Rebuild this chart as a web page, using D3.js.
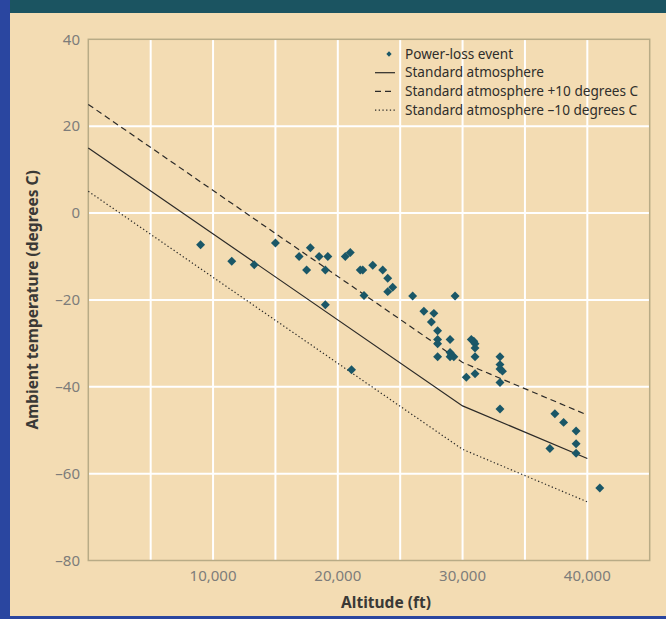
<!DOCTYPE html>
<html>
<head>
<meta charset="utf-8">
<script src="https://cdn.jsdelivr.net/npm/d3@7.9.0/dist/d3.min.js"></script>
<style>
  body { margin: 0; background: #f3dcb3; }
  svg { display: block; }
  .tick-label { font-family: 'Noto Sans', sans-serif; font-size: 15px; fill: #7d7c7a; }
  .axis-title { font-family: 'Noto Sans', sans-serif; font-size: 15.5px; font-weight: bold; fill: #3a3936; }
  .legend text { font-family: 'Noto Sans', sans-serif; font-size: 13.6px; fill: #2f2e2b; }
</style>
</head>
<body>
<svg id="chart"></svg>
<script>
// Power-loss events (altitude ft, ambient temp degrees C)
const eventAltitude = [
  9000, 11500, 13300, 15000, 16900, 17800, 17500, 18500, 19200, 19000,
  19000, 20600, 21000, 21800, 22000, 22800, 23600, 24000, 24000, 24400,
  22100, 21100, 26000, 29400, 26900, 27700, 27500, 28000, 28000, 28000,
  29000, 28000, 29000, 29100, 29300, 29000, 30700, 30900, 31000, 31000,
  31000, 30300, 31000, 33000, 33000, 33000, 33200, 33000, 33000, 37400,
  38100, 39100, 39100, 37000, 39100, 41000
];
const eventTemp = [
  -7.3, -11.1, -11.9, -6.9, -10.0, -8.0, -13.1, -10.0, -10.0, -13.1,
  -21.1, -10.0, -9.1, -13.1, -13.1, -12.0, -13.1, -15.0, -18.1, -17.1,
  -19.0, -36.1, -19.1, -19.1, -22.6, -23.1, -25.1, -27.1, -29.1, -30.1,
  -29.1, -33.1, -32.1, -32.7, -33.1, -33.1, -29.1, -29.5, -30.1, -31.1,
  -33.1, -37.8, -37.0, -33.1, -34.9, -35.9, -36.4, -39.0, -45.1, -46.2,
  -48.2, -50.2, -53.1, -54.2, -55.3, -63.3
];

// Standard atmosphere reference curves
const atmAltitude = [0, 30000, 40000];
const atmStandard = [15, -44.4, -56.5];
const atmWarm = [25, -34.4, -46.5];
const atmCold = [5, -54.4, -66.5];

const xTicks = [10000, 20000, 30000, 40000];
const xGrid = [5000, 10000, 15000, 20000, 25000, 30000, 35000, 40000];
const yTicks = [40, 20, 0, -20, -40, -60, -80];
const yGrid = [20, 0, -20, -40, -60];

const legendLabels = [
  'Power-loss event',
  'Standard atmosphere',
  'Standard atmosphere +10 degrees C',
  'Standard atmosphere \u201310 degrees C'
];

const width = 666;
const height = 619;

const svg = d3.select('#chart')
  .attr('width', width)
  .attr('height', height)
  .attr('viewBox', [0, 0, width, height]);

// frame: beige page, blue left/bottom edge, teal top band
svg.append('rect').attr('width', width).attr('height', height).attr('fill', '#f3dcb3');
svg.append('rect').attr('x', 10).attr('y', 0).attr('width', width - 10).attr('height', 13).attr('fill', '#1b5461');
svg.append('rect').attr('x', 0).attr('y', 616).attr('width', width).attr('height', 3).attr('fill', '#2a46a0');
svg.append('rect').attr('x', 0).attr('y', 0).attr('width', 10).attr('height', height).attr('fill', '#2a46a0');

const margin = { top: 39.3, right: 16.3, bottom: 58.5, left: 88.3 };
const usableArea = {
  top: margin.top,
  right: width - margin.right,
  bottom: height - margin.bottom,
  left: margin.left,
};

const xScale = d3.scaleLinear()
  .domain([0, 45000])
  .range([usableArea.left, usableArea.right]);

const yScale = d3.scaleLinear()
  .domain([-80, 40])
  .range([usableArea.bottom, usableArea.top]);

// gridlines
const grid = svg.append('g').attr('stroke', '#ffffff').attr('stroke-width', 2);
grid.selectAll('line.v')
  .data(xGrid)
  .join('line')
  .attr('class', 'v')
  .attr('x1', d => xScale(d)).attr('x2', d => xScale(d))
  .attr('y1', usableArea.top).attr('y2', usableArea.bottom);
grid.selectAll('line.h')
  .data(yGrid)
  .join('line')
  .attr('class', 'h')
  .attr('x1', usableArea.left).attr('x2', usableArea.right)
  .attr('y1', d => yScale(d)).attr('y2', d => yScale(d));

// plot border
svg.append('rect')
  .attr('x', usableArea.left)
  .attr('y', usableArea.top)
  .attr('width', usableArea.right - usableArea.left)
  .attr('height', usableArea.bottom - usableArea.top)
  .attr('fill', 'none')
  .attr('stroke', '#b8ab86')
  .attr('stroke-width', 1.5);

// reference lines
const line = d3.line()
  .x(d => xScale(d[0]))
  .y(d => yScale(d[1]));

const curves = [
  { values: atmStandard, dash: null },
  { values: atmWarm, dash: '6,4' },
  { values: atmCold, dash: '1.3,2.4' },
];

svg.append('g')
  .selectAll('path')
  .data(curves)
  .join('path')
  .attr('d', c => line(d3.zip(atmAltitude, c.values)))
  .attr('fill', 'none')
  .attr('stroke', '#2b2a28')
  .attr('stroke-width', 1.2)
  .attr('stroke-dasharray', c => c.dash);

// power-loss events as diamonds
const events = d3.zip(eventAltitude, eventTemp);
const diamond = d3.symbol(d3.symbolSquare, 40);

svg.append('g')
  .selectAll('path')
  .data(events)
  .join('path')
  .attr('d', diamond)
  .attr('transform', d => `translate(${xScale(d[0])},${yScale(d[1])}) rotate(45)`)
  .attr('fill', '#1a5767');

// tick labels
svg.append('g')
  .selectAll('text')
  .data(yTicks)
  .join('text')
  .attr('class', 'tick-label')
  .attr('x', 80)
  .attr('y', d => yScale(d))
  .attr('dy', '0.35em')
  .attr('text-anchor', 'end')
  .text(d => d < 0 ? '\u2013' + Math.abs(d) : d);

svg.append('g')
  .selectAll('text')
  .data(xTicks)
  .join('text')
  .attr('class', 'tick-label')
  .attr('x', d => xScale(d))
  .attr('y', usableArea.bottom + 15)
  .attr('dy', '0.35em')
  .attr('text-anchor', 'middle')
  .text(d => d3.format(',')(d));

// axis titles
svg.append('text')
  .attr('class', 'axis-title')
  .attr('x', 386)
  .attr('y', 603)
  .attr('dy', '0.35em')
  .attr('text-anchor', 'middle')
  .text('Altitude (ft)');

svg.append('text')
  .attr('class', 'axis-title')
  .attr('transform', `translate(33, ${(usableArea.top + usableArea.bottom) / 2}) rotate(-90)`)
  .attr('dy', '0.35em')
  .attr('text-anchor', 'middle')
  .text('Ambient temperature (degrees C)');

// legend
const legend = svg.append('g').attr('class', 'legend').attr('transform', 'translate(375, 54)');
const rowH = 18.7;

legend.selectAll('text')
  .data(legendLabels)
  .join('text')
  .attr('x', 30)
  .attr('y', (d, i) => i * rowH)
  .attr('dy', '0.35em')
  .text(d => d);

legend.append('path')
  .attr('d', d3.symbol(d3.symbolSquare, 14)())
  .attr('transform', 'translate(14, 0) rotate(45)')
  .attr('fill', '#1a5767');

legend.selectAll('line')
  .data(curves)
  .join('line')
  .attr('x1', 0).attr('x2', 20)
  .attr('y1', (d, i) => (i + 1) * rowH)
  .attr('y2', (d, i) => (i + 1) * rowH)
  .attr('stroke', '#2b2a28')
  .attr('stroke-width', 1.2)
  .attr('stroke-dasharray', c => c.dash);
</script>
</body>
</html>
